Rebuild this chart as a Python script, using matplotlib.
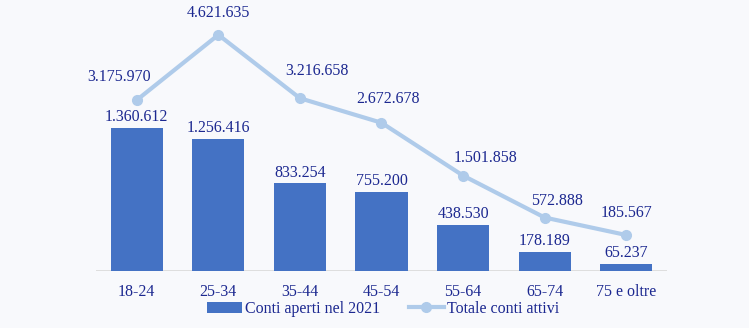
import matplotlib
matplotlib.use("Agg")
import matplotlib.pyplot as plt
from matplotlib.lines import Line2D
from matplotlib.patches import Patch

categories = ["18-24", "25-34", "35-44", "45-54", "55-64", "65-74", "75 e oltre"]
conti_aperti_2021 = [1360612, 1256416, 833254, 755200, 438530, 178189, 65237]
totale_conti_attivi = [3175970, 4621635, 3216658, 2672678, 1501858, 572888, 185567]

def fmt(v):
    return f"{v:,}".replace(",", ".")

BG = "#F8F9FC"
BAR = "#4472C4"
LINE = "#AFCBEA"
TXT = "#1C2890"
FONT = "Liberation Serif"
FS = 11.5

fig = plt.figure(figsize=(7.49, 3.28), dpi=100, facecolor=BG)
W, H = 749, 328
ax = fig.add_axes([96 / W, (H - 271) / H, (667 - 96) / W, (271 - 8) / H])
ax.set_facecolor(BG)
ax2 = ax.twinx()

x = list(range(len(categories)))
ax.bar(x, conti_aperti_2021, width=0.64, color=BAR, zorder=2)
ax.set_xlim(-0.5, len(categories) - 0.5)
ax.set_ylim(0, 2500000)
ax2.set_ylim(-612000, 5216000)

ax2.plot(x, totale_conti_attivi, color=LINE, lw=3, marker="o", ms=7,
         solid_capstyle="round", zorder=3)

for xi, v in zip(x, conti_aperti_2021):
    ax.annotate(fmt(v), (xi, v), xytext=(0, 2), textcoords="offset points",
                ha="center", va="bottom", fontsize=FS, family=FONT, color=TXT)

line_offsets = [(-13, 11), (0, 10), (12, 14), (5, 11), (16, 7), (9, 6), (0, 10)]
for xi, v, (dx, dy) in zip(x, totale_conti_attivi, line_offsets):
    ax2.annotate(fmt(v), (xi, v), xytext=(dx, dy), textcoords="offset points",
                 ha="center", va="bottom", fontsize=FS, family=FONT, color=TXT)

ax.set_xticks(x)
ax.set_xticklabels(categories, fontsize=FS, family=FONT, color=TXT)
ax.tick_params(axis="x", length=0, pad=9)
ax.set_yticks([])
ax2.set_yticks([])
for a in (ax, ax2):
    for s in ["top", "left", "right", "bottom"]:
        a.spines[s].set_visible(False)
ax.axhline(0, color="#D9D9D9", lw=1.2, zorder=1)

handles = [Patch(facecolor=BAR, edgecolor="none"),
           Line2D([0], [0], color=LINE, lw=3, marker="o", ms=7)]
leg = fig.legend(handles, ["Conti aperti nel 2021", "Totale conti attivi"],
                 loc="center", bbox_to_anchor=(383 / W, (H - 309) / H), ncol=2,
                 frameon=False, prop={"family": FONT, "size": FS},
                 handlelength=2.2, handletextpad=0.2, columnspacing=1.8)
for t in leg.get_texts():
    t.set_color(TXT)

fig.savefig("out.png", dpi=100, facecolor=BG)
